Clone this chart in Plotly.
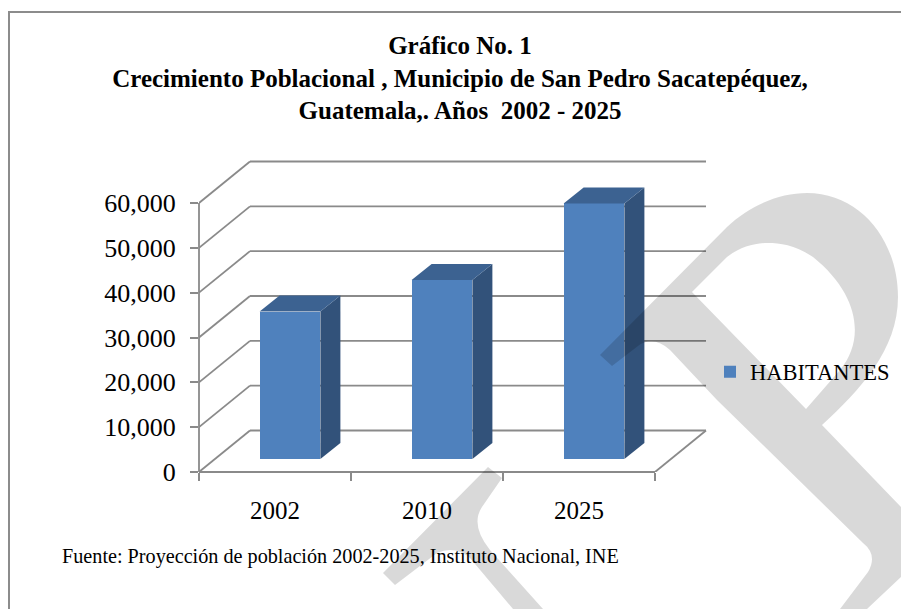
import re
import plotly.graph_objects as go

# ---- data ----
categories = ["2002", "2010", "2025"]
habitantes = [32900, 39900, 57000]
y_ticks = [0, 10000, 20000, 30000, 40000, 50000, 60000]
series_name = "HABITANTES"
title_lines = ["Gráfico No. 1",
               "Crecimiento Poblacional , Municipio de San Pedro Sacatepéquez,",
               "Guatemala,. Años  2002 - 2025"]
source_note = "Fuente: Proyección de población 2002-2025, Instituto Nacional, INE"

# ---- pseudo-3D geometry, in data units ----
FONT = "Liberation Serif"
GRID = "#8a8a8a"
FRONT, TOP, SIDE = "#4f81bd", "#3c6291", "#32527a"
W, H = 901, 609
L, R, T, B = 199, 712, 150, 472          # plot rectangle on the page
X_UNIT = 152.0                           # pixels per category
Y_UNIT = 269.0 / 60000                   # pixels per inhabitant
WALL_DX, WALL_DY = 51 / X_UNIT, 41.5 / Y_UNIT
BAR_W, BAR_SHIFT, BAR_BASE = 0.40, 15 / X_UNIT, 13 / Y_UNIT
BAR_DX, BAR_DY = 20 / X_UNIT, 16 / Y_UNIT
N = len(categories)
X_MAX, Y_MAX = (R - L) / X_UNIT, (B - T) / Y_UNIT

fig = go.Figure()

centers = [i + 0.5 + BAR_SHIFT for i in range(N)]
fig.add_trace(go.Bar(x=centers, y=habitantes, base=BAR_BASE, width=BAR_W,
                     marker=dict(color=FRONT, line=dict(width=0)),
                     name=series_name, showlegend=True))

for c, v in zip(centers, habitantes):
    x0, x1 = c - BAR_W / 2, c + BAR_W / 2
    y0, y1 = BAR_BASE, BAR_BASE + v
    fig.add_trace(go.Scatter(
        x=[x1, x1 + BAR_DX, x1 + BAR_DX, x1, x1],
        y=[y0, y0 + BAR_DY, y1 + BAR_DY, y1, y0],
        fill="toself", fillcolor=SIDE, mode="none", showlegend=False, hoverinfo="skip"))
    fig.add_trace(go.Scatter(
        x=[x0, x0 + BAR_DX, x1 + BAR_DX, x1, x0],
        y=[y1, y1 + BAR_DY, y1 + BAR_DY, y1, y1],
        fill="toself", fillcolor=TOP, mode="none", showlegend=False, hoverinfo="skip"))

shapes = []
def seg(x0, y0, x1, y1):
    shapes.append(dict(type="line", xref="x", yref="y", x0=x0, y0=y0, x1=x1, y1=y1,
                       layer="below", line=dict(color=GRID, width=1.8)))

def axis_seg(x0, y0, x1, y1):
    # same scale as seg, but on paper so the plot edge does not clip half the stroke
    shapes.append(dict(type="line", xref="paper", yref="paper",
                       x0=x0 / X_MAX, y0=y0 / Y_MAX, x1=x1 / X_MAX, y1=y1 / Y_MAX,
                       layer="below", line=dict(color=GRID, width=1.8)))

for t in y_ticks:
    seg(0, t, WALL_DX, t + WALL_DY)
    seg(WALL_DX, t + WALL_DY, N + WALL_DX, t + WALL_DY)
axis_seg(0, 0, 0, y_ticks[-1])
axis_seg(0, 0, N, 0)
seg(N, 0, N + WALL_DX, WALL_DY)

# ---- page furniture, in page pixels ----
def page(path):
    def conv(m):
        x, y = float(m.group(1)), float(m.group(2))
        return f"{(x - L) / (R - L):.5f},{(B - y) / (B - T):.5f}"
    return re.sub(r"(-?[\d.]+),(-?[\d.]+)", conv, path)

frame = "M9,609 L9,12 L901,12"
mark_a = ("M600,355 L727,227 C750,205 780,193 807,193 C860,193 898,240 898,297 "
          "C898,350 860,390 822,425 L901,507 L901,577 L867,609 L840,609 L868,572 "
          "Q878,555 863,543 L717,400 L670,350 Q653,335 638,346 L612,366 Z "
          "M692,292 L806,409 L840,370 C865,340 860,295 813,257 C795,245 780,243 768,243 "
          "C755,243 740,247 727,257 Z")
mark_b = ("M488,467 L383,573 L395,585 L437,553 Q455,545 470,558 L513,609 L543,609 "
          "L490,550 Q470,525 482,507 L502,478 Z")

shapes.append(dict(type="path", xref="paper", yref="paper", path=page(frame),
                   line=dict(color="#8c8c8c", width=2), layer="below"))
for p in (mark_a, mark_b):
    shapes.append(dict(type="path", xref="paper", yref="paper", path=page(p),
                       fillcolor="rgba(0,0,0,0.15)", line=dict(width=0), layer="above"))

fig.update_layout(
    width=W, height=H,
    margin=dict(l=L, r=W - R, t=T, b=H - B, autoexpand=False),
    paper_bgcolor="white", plot_bgcolor="rgba(0,0,0,0)",
    font=dict(family=FONT, color="black"),
    shapes=shapes,
    bargap=0,
    title=dict(text="<b>" + "<br>".join(title_lines) + "</b>",
               font=dict(family=FONT, size=25, color="black"),
               xref="container", yref="container", x=460 / W, xanchor="center",
               y=1 - 54 / H, yanchor="top"),
    xaxis=dict(range=[0, X_MAX], showgrid=False, zeroline=False, showline=False,
               tickmode="array", tickvals=[i + 0.5 for i in range(N)], ticktext=categories,
               ticks="", ticklabelstandoff=21, tickfont=dict(family=FONT, size=25, color="black"),
               minor=dict(tickmode="array", tickvals=list(range(N + 1)), ticks="outside",
                          ticklen=8, tickwidth=1.8, tickcolor=GRID, showgrid=False)),
    yaxis=dict(range=[0, Y_MAX], showgrid=False, zeroline=False, showline=False,
               tickmode="array", tickvals=y_ticks, tickformat=",d",
               ticks="outside", ticklen=8, tickwidth=1.8, tickcolor=GRID,
               ticklabelstandoff=9, tickfont=dict(family=FONT, size=26, color="black")),
    legend=dict(x=(710 - L) / (R - L), xanchor="left", y=(B - 372) / (B - T), yanchor="middle",
                bgcolor="rgba(0,0,0,0)", font=dict(family=FONT, size=22.5, color="black"),
                itemwidth=30),
    annotations=[dict(text=source_note, xref="paper", yref="paper", showarrow=False,
                      x=(60 - L) / (R - L), xanchor="left", y=(B - 556) / (B - T), yanchor="middle",
                      font=dict(family=FONT, size=20.2, color="black"))],
)

fig.write_html("out.html", config=dict(displayModeBar=False),
               post_script="document.body.style.margin='0';document.body.style.overflow='hidden';")
